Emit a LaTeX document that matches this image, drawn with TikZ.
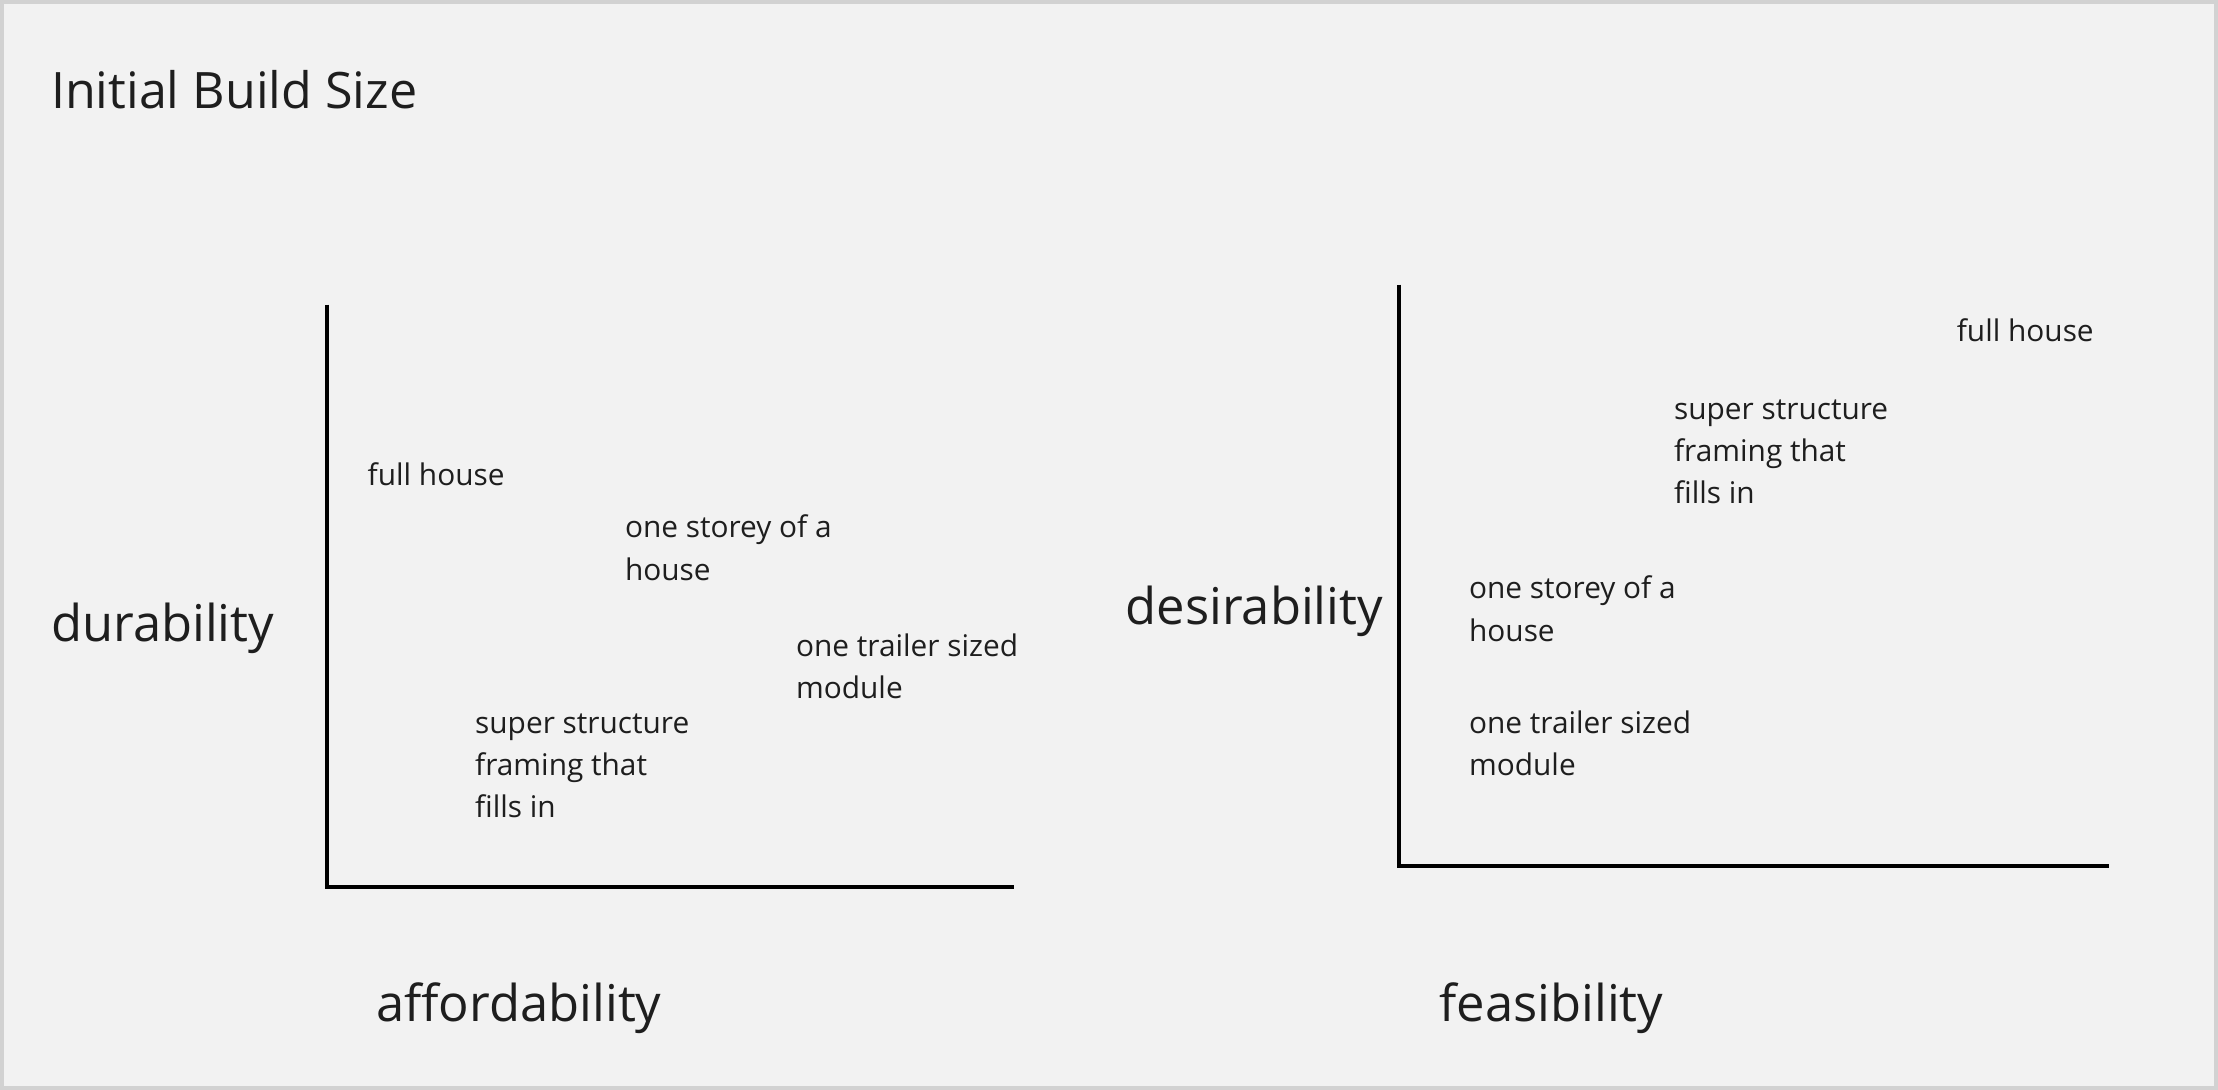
\documentclass[tikz,border=0pt]{standalone}
\usepackage{fontspec}
\setmainfont{Open Sans}
\definecolor{boardbg}{HTML}{F2F2F2}
\definecolor{boardedge}{HTML}{D2D2D2}
\definecolor{ink}{HTML}{1E1E1E}
\tikzset{
    axisline/.style={line width=0.8pt, black},
    heading/.style={anchor=base west, inner sep=0pt, text=ink, font=\fontsize{10.1}{12}\selectfont},
    axislabel/.style={anchor=base west, inner sep=0pt, text=ink, font=\fontsize{10.2}{12}\selectfont},
    item/.style={anchor=base west, inner sep=0pt, align=left, text=ink, font=\fontsize{6}{8.5}\selectfont}
}
\begin{document}
\begin{tikzpicture}[x=0.01cm, y=-0.01cm]
        \draw[boardedge, fill=boardbg, line width=0.8pt] (1,1) rectangle (1567,769);
        \useasboundingbox (0,0) rectangle (1568,770);
        \node[heading] (title) at (35,76) {Initial Build Size};
        % left chart (item positions are last-line baselines)
        \coordinate (L) at (231,627);
        \draw[axisline] (231,215) -- (L) -- (717,627);
        \node[axislabel] (durab) at (35,453) {durability};
        \node[axislabel] (afford) at (265,722) {affordability};
        \node[item] (lfull) at (259,343) {full house};
        \node[item] (lstorey) at (441,410) {one storey of a\\house};
        \node[item] (ltrailer) at (562,494) {one trailer sized\\module};
        \node[item] (lsuper) at (335,578) {super structure\\framing that\\fills in};
        % right chart
        \coordinate (R) at (989,612);
        \draw[axisline] (989,201) -- (R) -- (1491,612);
        \node[axislabel] (desir) at (795,441) {desirability};
        \node[axislabel] (feas) at (1017,722) {feasibility};
        \node[item] (rfull) at (1383,241) {full house};
        \node[item] (rsuper) at (1183,356) {super structure\\framing that\\fills in};
        \node[item] (rstorey) at (1038,453) {one storey of a\\house};
        \node[item] (rtrailer) at (1038,548) {one trailer sized\\module};
    \end{tikzpicture}
\end{document}
